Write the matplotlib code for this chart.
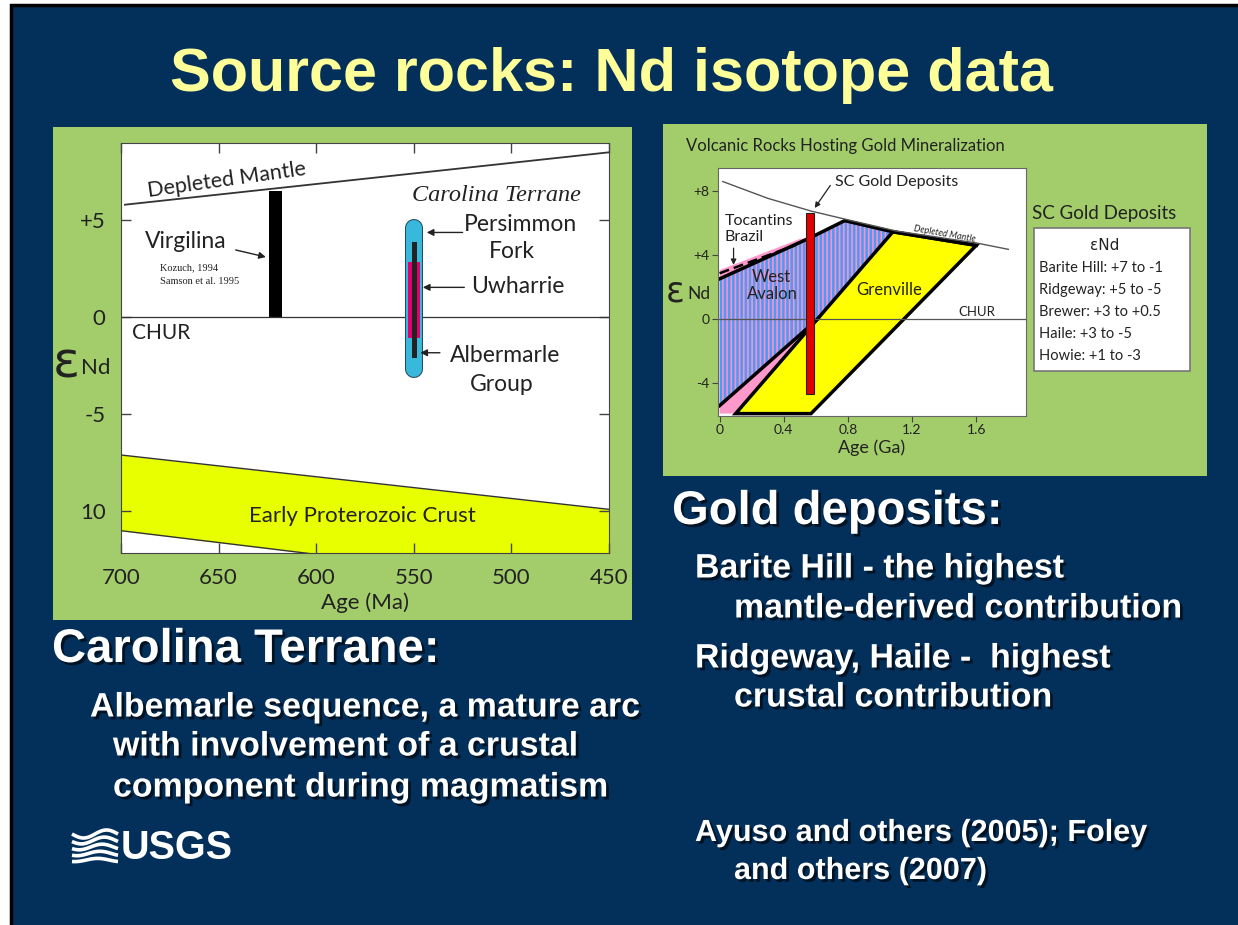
import numpy as np
import matplotlib
matplotlib.use('Agg')
import matplotlib.pyplot as plt
import matplotlib.patheffects as pe
from matplotlib.patches import Rectangle, Polygon

W, H = 1238, 925
NAVY = '#02305a'
GREEN = '#a3cd6b'
SLIDE_FONT = 'Liberation Sans'
CHART_FONT = 'Lato'

# ---- left chart data (Age in Ma, eps Nd) ----
dm_age = [698, 450]
dm_eps = [5.8, 8.5]
virg_age, virg_width, virg_top = 621, 6.7, 6.5
crust_age = [700, 450]
crust_top = [-7.1, -9.9]
crust_bot = [-11.0, -14.05]
ct_age = 550
pf_range = (-3.1, 5.03)      # Persimmon Fork (blue)
uw_range = (-1.06, 2.83)     # Uwharrie (magenta)
ab_range = (-2.08, 3.89)     # Albemarle (dark)
left_yticks = [5, 0, -5, -10]
left_yticklabels = ['+5', '0', '-5', '10']
left_xticks = [700, 650, 600, 550, 500, 450]

# ---- right chart data (Age in Ga, eps Nd) ----
mantle_age = [0.02, 0.3, 0.57, 0.8, 1.1, 1.4, 1.6, 1.8]
mantle_eps = [8.6, 7.55, 6.75, 6.2, 5.5, 5.05, 4.75, 4.35]
avalon_age = [0, 0, 0.57, 0.78, 1.08, 0.614]
avalon_eps = [-5.45, 2.5, 5.1, 6.15, 5.45, 0.0]
toc_age = [0, 0, 0.5, 0.57]
toc_eps = [2.5, 3.05, 5.0, 5.1]
pink_low_age = [0, 0.614, 0.1, 0]
pink_low_eps = [-5.45, 0.0, -5.95, -5.95]
gren_age = [1.08, 1.6, 0.57, 0.1]
gren_eps = [5.45, 4.6, -5.95, -5.95]
top_edge_age = [0, 0.57, 0.78, 1.08, 1.6]
top_edge_eps = [2.5, 5.1, 6.15, 5.45, 4.6]
dash_age = [0, 0.47]
dash_eps = [2.85, 4.6]
sc_age = (0.541, 0.590)
sc_eps = (-4.7, 6.6)
right_yticks = [8, 4, 0, -4]
right_yticklabels = ['+8', '+4', '0', '-4']
right_xticks = [0, 0.4, 0.8, 1.2, 1.6]
deposit_lines = ['Barite Hill: +7 to -1', 'Ridgeway: +5 to -5',
                 'Brewer: +3 to +0.5', 'Haile: +3 to -5', 'Howie: +1 to -3']


def rect(x0, y0, x1, y1):
    return [x0 / W, 1 - y1 / H, (x1 - x0) / W, (y1 - y0) / H]


fig = plt.figure(figsize=(W / 100, H / 100), dpi=100, facecolor='white')

# slide background / decoration layer in pixel coordinates
deco = fig.add_axes([0, 0, 1, 1])
deco.set_xlim(0, W)
deco.set_ylim(H, 0)
deco.axis('off')
deco.add_patch(Rectangle((11, 5), W, H, facecolor=NAVY, edgecolor='black', lw=2.5))
deco.add_patch(Rectangle((53, 127), 579, 493, facecolor=GREEN, edgecolor='none'))
deco.add_patch(Rectangle((663, 124), 544, 352, facecolor=GREEN, edgecolor='none'))

deco.text(611, 76, 'Source rocks: Nd isotope data', color='#ffff99', fontsize=44,
          fontweight='bold', family=SLIDE_FONT, ha='center', va='center')

shadow = [pe.SimplePatchShadow(offset=(2, -2), shadow_rgbFace='black', alpha=0.6), pe.Normal()]
slide_text = [
    (52, 650, 'Carolina Terrane:', 34),
    (90, 708, 'Albemarle sequence, a mature arc', 24.4),
    (113, 747, 'with involvement of a crustal', 24.4),
    (113, 788, 'component during magmatism', 24.4),
    (672, 512, 'Gold deposits:', 34),
    (695, 569, 'Barite Hill - the highest', 24.4),
    (734, 609, 'mantle-derived contribution', 24.4),
    (695, 659, 'Ridgeway, Haile -  highest', 24.4),
    (734, 698, 'crustal contribution', 24.4),
    (695, 833, 'Ayuso and others (2005); Foley', 22),
    (734, 871, 'and others (2007)', 22),
]
for x, y, s, fs in slide_text:
    deco.text(x, y, s, color='white', fontsize=fs, fontweight='bold', family=SLIDE_FONT,
              ha='left', va='center', path_effects=shadow)

# USGS logo
xw = np.linspace(72, 118, 60)
for k in range(5):
    yw = 834 + k * 6.5 + 4 * np.sin((xw - 72) / 46 * 2 * np.pi + 0.3 * k) * (1 - 0.15 * k)
    deco.plot(xw, yw, color='white', lw=2.6, solid_capstyle='butt')
deco.text(121, 848, 'USGS', color='white', fontsize=28.5, fontweight='bold',
          family=['Liberation Sans Narrow', 'Liberation Sans'], ha='left', va='center')

# ================= left chart =================
ax = fig.add_axes(rect(121, 143, 609, 553))
ax.set_xlim(700, 450)
ax.set_ylim(-12.15, 8.98)
ax.set_facecolor('white')
ax.plot(dm_age, dm_eps, color='#333333', lw=1.3)
ax.axhline(0, color='#333333', lw=0.9)
ax.fill_between(crust_age, crust_top, crust_bot, color='#e8ff00', lw=0)
ax.plot(crust_age, crust_top, color='#333333', lw=1.0)
ax.plot(crust_age, crust_bot, color='#333333', lw=1.0)
ax.bar(virg_age, virg_top, width=virg_width, bottom=0, color='black')

r = 0.43
ax.plot([ct_age, ct_age], [pf_range[0] + r, pf_range[1] - r], color='#38b8dc', lw=11.5,
        solid_capstyle='round', zorder=3,
        path_effects=[pe.Stroke(linewidth=13, foreground='#2a4a5a'), pe.Normal()])
ax.bar(ct_age, uw_range[1] - uw_range[0], width=6, bottom=uw_range[0], color='#e0006e',
       zorder=4)
ax.bar(ct_age - 0.4, ab_range[1] - ab_range[0], width=2.5, bottom=ab_range[0], color='#222222',
       zorder=5)

arrow = dict(arrowstyle='-|>', color='#222222', lw=1.0, mutation_scale=10)
ax.annotate('', xy=(544.8, 4.37), xytext=(523.6, 4.37), arrowprops=arrow)
ax.annotate('', xy=(546.8, 1.54), xytext=(522.7, 1.54), arrowprops=arrow)
ax.annotate('', xy=(548.1, -1.83), xytext=(535.2, -1.83), arrowprops=arrow)
ax.annotate('', xy=(624.4, 3.07), xytext=(642.6, 3.5), arrowprops=arrow)

tkw = dict(family=CHART_FONT, color='#222222')
ax.text(646, 7.05, 'Depleted Mantle', fontsize=15.5, rotation=8, ha='center', va='center', **tkw)
ax.text(667, 3.9, 'Virgilina', fontsize=16.5, ha='center', va='center', **tkw)
ax.text(680, 2.53, 'Kozuch, 1994', fontsize=7.5, family='Liberation Serif', color='#222222',
        ha='left', va='center')
ax.text(680, 1.84, 'Samson et al. 1995', fontsize=7.5, family='Liberation Serif',
        color='#222222', ha='left', va='center')
ax.text(694.6, -0.8, 'CHUR', fontsize=15, ha='left', va='center', **tkw)
ax.text(507.6, 6.3, 'Carolina Terrane', fontsize=17.5, style='italic', family='Liberation Serif',
        color='#222222', ha='center', va='center')
ax.text(495.5, 4.78, 'Persimmon', fontsize=16.5, ha='center', va='center', **tkw)
ax.text(500, 3.38, 'Fork', fontsize=16.5, ha='center', va='center', **tkw)
ax.text(496.6, 1.59, 'Uwharrie', fontsize=16.5, ha='center', va='center', **tkw)
ax.text(503, -1.96, 'Albermarle', fontsize=16.5, ha='center', va='center', **tkw)
ax.text(504.7, -3.45, 'Group', fontsize=16.5, ha='center', va='center', **tkw)
ax.text(576.6, -10.24, 'Early Proterozoic Crust', fontsize=16, ha='center', va='center', **tkw)

ax.set_yticks(left_yticks)
ax.set_yticklabels(left_yticklabels)
ax.set_xticks(left_xticks)
ax.tick_params(direction='in', top=True, right=True, length=7, width=1, color='#444444',
               labelsize=16, labelcolor='#222222', pad=11)
for lab in ax.get_xticklabels() + ax.get_yticklabels():
    lab.set_family(CHART_FONT)
for sp in ax.spines.values():
    sp.set_color('#444444')
ax.set_xlabel('Age (Ma)', fontsize=16, family=CHART_FONT, color='#222222', labelpad=3)
fig.text(53 / W, 1 - 364 / H, '\u03b5', fontsize=36, color='#222222', family='DejaVu Sans',
         ha='left', va='center')
fig.text(81 / W, 1 - 368 / H, 'Nd', fontsize=16, color='#222222', family=CHART_FONT,
         ha='left', va='center')

# ================= right chart =================
bx = fig.add_axes(rect(718, 168, 1026, 416))
bx.set_xlim(-0.01, 1.91)
bx.set_ylim(-6.1, 9.45)
bx.set_facecolor('white')
plt.rcParams['hatch.linewidth'] = 1.2
plt.rcParams['hatch.color'] = '#ff8fc8'
bx.add_patch(Polygon(np.column_stack([avalon_age, avalon_eps]), closed=True,
                     facecolor='#4a9cf5', edgecolor='#ff8fc8', hatch='||||', lw=0))
bx.add_patch(Polygon(np.column_stack([toc_age, toc_eps]), closed=True,
                     facecolor='#ff99cc', edgecolor='none'))
bx.add_patch(Polygon(np.column_stack([pink_low_age, pink_low_eps]), closed=True,
                     facecolor='#ff99cc', edgecolor='none'))
bx.plot([0, 0.614], [-5.45, 0.0], color='black', lw=2.5)
bx.add_patch(Polygon(np.column_stack([gren_age, gren_eps]), closed=True,
                     facecolor='#ffff00', edgecolor='black', lw=2.5, joinstyle='miter'))
bx.plot(top_edge_age, top_edge_eps, color='black', lw=2.5)
bx.plot(dash_age, dash_eps, color='black', lw=1.8, ls=(0, (4, 2)))
bx.plot(mantle_age, mantle_eps, color='#555555', lw=1.0)
bx.axhline(0, color='#555555', lw=0.9)
bx.add_patch(Rectangle((sc_age[0], sc_eps[0]), sc_age[1] - sc_age[0], sc_eps[1] - sc_eps[0],
                       facecolor='#e00000', edgecolor='#222222', lw=0.8, zorder=3))

arrow2 = dict(arrowstyle='-|>', color='#222222', lw=0.9, mutation_scale=8)
bx.annotate('', xy=(0.583, 6.8), xytext=(0.70, 8.5), arrowprops=arrow2)
bx.annotate('', xy=(0.087, 3.2), xytext=(0.087, 4.6), arrowprops=arrow2)

ckw = dict(family=CHART_FONT, color='#222222')
bx.text(0.72, 8.6, 'SC Gold Deposits', fontsize=11.5, ha='left', va='center', **ckw)
bx.text(0.03, 6.1, 'Tocantins', fontsize=11.5, ha='left', va='center', **ckw)
bx.text(0.03, 5.1, 'Brazil', fontsize=11.5, ha='left', va='center', **ckw)
bx.text(0.32, 2.62, 'West', fontsize=12, ha='center', va='center', **ckw)
bx.text(0.33, 1.55, 'Avalon', fontsize=12, ha='center', va='center', **ckw)
bx.text(1.06, 1.8, 'Grenville', fontsize=12, ha='center', va='center', **ckw)
bx.text(1.49, 0.4, 'CHUR', fontsize=9.5, ha='left', va='center', **ckw)
bx.text(1.40, 5.28, 'Depleted Mantle', fontsize=6.5, style='italic', rotation=-10,
        ha='center', va='center', **ckw)

bx.set_yticks(right_yticks)
bx.set_yticklabels(right_yticklabels)
bx.set_xticks(right_xticks)
bx.set_xticklabels(['0', '0.4', '0.8', '1.2', '1.6'])
bx.tick_params(direction='out', length=4, width=0.8, color='#444444', labelsize=10,
               labelcolor='#222222', pad=2)
for lab in bx.get_xticklabels() + bx.get_yticklabels():
    lab.set_family(CHART_FONT)
for sp in bx.spines.values():
    sp.set_color('#666666')
bx.set_xlabel('Age (Ga)', fontsize=13, family=CHART_FONT, color='#222222', labelpad=2)

fig.text(666 / W, 1 - 291 / H, '\u03b5', fontsize=25, color='#222222', family='DejaVu Sans',
         ha='left', va='center')
fig.text(687 / W, 1 - 294 / H, 'Nd', fontsize=12.5, color='#222222', family=CHART_FONT,
         ha='left', va='center')
fig.text(686 / W, 1 - 146 / H, 'Volcanic Rocks Hosting Gold Mineralization', fontsize=12,
         color='#222222', family=CHART_FONT, ha='left', va='center')
fig.text(1032 / W, 1 - 213 / H, 'SC Gold Deposits', fontsize=13.5, color='#222222',
         family=CHART_FONT, ha='left', va='center')

# deposits box
deco.add_patch(Rectangle((1034, 228), 156, 143, facecolor='white', edgecolor='#777777', lw=1.2,
                         zorder=3))
deco.text(1105, 246, '\u03b5Nd', fontsize=11, color='#222222', family='DejaVu Sans',
          ha='center', va='center', zorder=4)
for i, s in enumerate(deposit_lines):
    deco.text(1039, 268 + i * 22, s, fontsize=10.5, color='#222222', family=CHART_FONT,
              ha='left', va='center', zorder=4)

fig.savefig('out.png', dpi=100, facecolor='white')
